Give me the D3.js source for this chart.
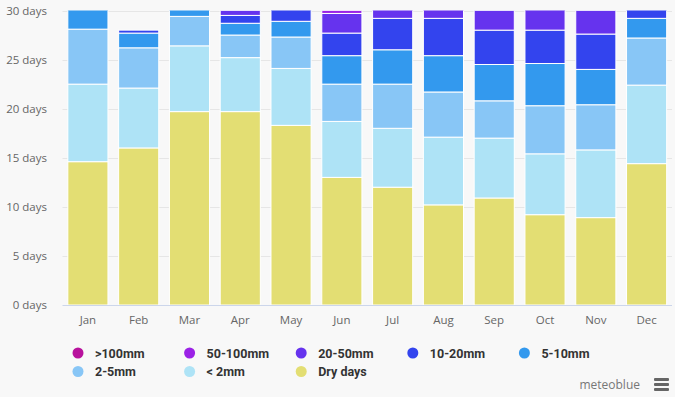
<!DOCTYPE html>
<html><head><meta charset="utf-8">
<script src="https://cdn.jsdelivr.net/npm/d3@7"></script>
<style>
html,body{margin:0;padding:0;background:#f8f8f8;}
svg{display:block;font-family:"Open Sans",sans-serif;}
</style></head>
<body><svg id="c" width="675" height="397"></svg>
<script>
const months = ["Jan","Feb","Mar","Apr","May","Jun","Jul","Aug","Sep","Oct","Nov","Dec"];
const seriesNames = [">100mm","50-100mm","20-50mm","10-20mm","5-10mm","2-5mm","< 2mm","Dry days"];
const seriesColors = ["#b8129d","#9b22e6","#6633ee","#3344ee","#3399ee","#88c6f6","#aee3f6","#e3de73"];
const yTicks = [0,5,10,15,20,25,30];

const dryDays   = [14.6,16.0,19.7,19.7,18.3,13.0,12.0,10.2,10.9, 9.2, 8.9,14.4];
const lt2mm     = [ 7.9, 6.1, 6.7, 5.5, 5.8, 5.7, 6.0, 6.9, 6.1, 6.2, 6.9, 8.0];
const mm2to5    = [ 5.6, 4.1, 3.0, 2.3, 3.2, 3.8, 4.5, 4.6, 3.8, 4.9, 4.6, 4.8];
const mm5to10   = [ 2.9, 1.5, 1.6, 1.2, 1.6, 2.9, 3.5, 3.7, 3.7, 4.3, 3.6, 2.0];
const mm10to20  = [ 0.0, 0.3, 0.0, 0.8, 2.1, 2.3, 3.2, 3.8, 3.5, 3.4, 3.6, 1.8];
const mm20to50  = [ 0.0, 0.0, 0.0, 0.5, 0.0, 2.0, 1.8, 1.8, 2.0, 3.0, 2.4, 0.0];
const mm50to100 = [ 0.0, 0.0, 0.0, 0.0, 0.0, 0.3, 0.0, 0.0, 0.0, 0.0, 0.0, 0.0];
const mm100plus = [ 0.0, 0.0, 0.0, 0.0, 0.0, 0.0, 0.0, 0.0, 0.0, 0.0, 0.0, 0.0];

// stacking order bottom -> top
const stackKeys = ["Dry days","< 2mm","2-5mm","5-10mm","10-20mm","20-50mm","50-100mm",">100mm"];
const stackVals = [dryDays,lt2mm,mm2to5,mm5to10,mm10to20,mm20to50,mm50to100,mm100plus];
const colorOf = d3.scaleOrdinal().domain(seriesNames).range(seriesColors);

const rows = months.map((m,i)=>{const r={month:m}; stackKeys.forEach((k,j)=>r[k]=stackVals[j][i]); return r;});
const stacked = d3.stack().keys(stackKeys)(rows);

const svg = d3.select("#c");
const L=62.5, R=672, T=10.5, B=305;
const x = d3.scaleBand().domain(months).range([L,R]).paddingInner(0.21).paddingOuter(0.105);
const y = d3.scaleLinear().domain([0,30]).range([B,T]);

// grid
svg.append("g").selectAll("line").data(yTicks.filter(t=>t>0)).join("line")
  .attr("x1",L).attr("x2",R).attr("y1",d=>Math.round(y(d))+0.5).attr("y2",d=>Math.round(y(d))+0.5)
  .attr("stroke","#e6e6e6").attr("stroke-width",1);

// y labels
svg.append("g").selectAll("text").data(yTicks).join("text")
  .attr("x",47).attr("y",d=>y(d)+4).attr("text-anchor","end")
  .attr("fill","#666").attr("font-size","11.5px").text(d=>d+" days");

svg.append("clipPath").attr("id","plot").append("rect").attr("x",L).attr("y",T).attr("width",R-L).attr("height",B-T+1);

const g = svg.append("g").attr("clip-path","url(#plot)");
g.selectAll("g").data(stacked).join("g").attr("fill",d=>colorOf(d.key))
  .selectAll("rect").data(d=>d.filter(s=>s[1]-s[0]>0)).join("rect")
  .attr("x",d=>x(d.data.month)).attr("width",x.bandwidth())
  .attr("y",d=>y(d[1])).attr("height",d=>y(d[0])-y(d[1]))
  .attr("stroke","#ffffff").attr("stroke-width",1);

// x axis line
svg.append("line").attr("x1",L).attr("x2",R).attr("y1",B+0.5).attr("y2",B+0.5).attr("stroke","#ccd6eb");
svg.append("g").selectAll("text").data(months).join("text")
  .attr("x",d=>x(d)+x.bandwidth()/2).attr("y",324).attr("text-anchor","middle")
  .attr("fill","#666").attr("font-size","11.5px").text(d=>d);

// legend
const leg = svg.append("g").attr("font-family","Roboto, sans-serif");
seriesNames.forEach((n,i)=>{
  const col=i%5, row=Math.floor(i/5);
  const cx = 78 + col*111.6, cy = 353 + row*18.5;
  leg.append("circle").attr("cx",cx).attr("cy",cy).attr("r",5.5).attr("fill",colorOf(n));
  leg.append("text").attr("x",cx+17).attr("y",cy+4.5).attr("font-size","12.5px").attr("font-weight","bold")
    .attr("fill","#333").text(n);
});

// credits
svg.append("text").attr("x",640).attr("y",389).attr("text-anchor","end").attr("font-size","12px").attr("fill","#777").text("meteoblue");
[0,5,10].forEach(o=>svg.append("rect").attr("x",654).attr("y",378+o).attr("width",15).attr("height",3).attr("rx",1).attr("fill","#666"));
</script></body></html>
